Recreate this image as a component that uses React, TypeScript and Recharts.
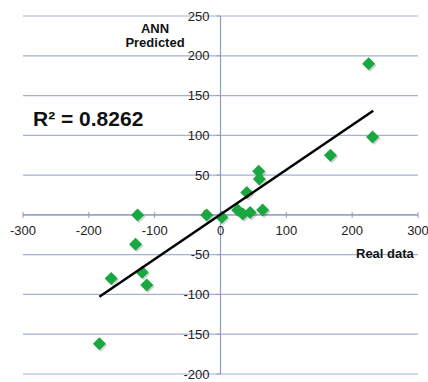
import { ScatterChart, Scatter, XAxis, YAxis, ReferenceLine, ReferenceDot } from 'recharts';

const realData = [225, 231, 167, 58, 59, 40, 26, 34, 45, 64, -21, 2, -126, -129, -166, -119, -112, -184];
const annPredicted = [190, 98, 75, 55, 45, 28, 6, 1, 3, 6, 0, -3, 0, -37, -80, -72, -88, -162];

const trendX = [-184, 232];
const trendY = [-103, 131];

const xTicks = [-300, -200, -100, 0, 100, 200, 300];
const yTicks = [-200, -150, -100, -50, 0, 50, 100, 150, 200, 250];

const points = realData.map((x, i) => ({ x, y: annPredicted[i] }));
const trend = trendX.map((x, i) => ({ x, y: trendY[i] }));

const gridColor = '#A3B1D6';
const axisColor = '#8D9CC6';
const font = '"Liberation Sans", Arial, sans-serif';

function Diamond(props: any) {
  const { cx, cy } = props;
  const s = 6.5;
  const pts = (dx: number, dy: number) =>
    `${cx + dx},${cy + dy - s} ${cx + dx + s},${cy + dy} ${cx + dx},${cy + dy + s} ${cx + dx - s},${cy + dy}`;
  return (
    <g>
      <polygon points={pts(1.5, 1.5)} fill="#000" opacity={0.18} />
      <polygon points={pts(0, 0)} fill="#19A83F" />
    </g>
  );
}

function XTick(props: any) {
  const { cx, cy, value } = props;
  return (
    <g>
      <line x1={cx} y1={cy - 3} x2={cx} y2={cy + 3} stroke={axisColor} />
      <text x={cx} y={cy + 20} textAnchor="middle" fontSize={13} fontFamily={font} fill="#222">
        {value}
      </text>
    </g>
  );
}

function YTick(props: any) {
  const { cx, cy, value } = props;
  return (
    <g>
      <line x1={cx - 4} y1={cy} x2={cx} y2={cy} stroke={axisColor} />
      <text x={cx - 11} y={cy + 4.5} textAnchor="end" fontSize={13} fontFamily={font} fill="#222">
        {value}
      </text>
    </g>
  );
}

export default function App() {
  return (
    <div style={{ position: 'absolute', left: 0, top: 0, width: 428, height: 382, background: '#fff' }}>
      <ScatterChart width={428} height={382} margin={{ top: 16, right: 10, bottom: 8, left: 23 }}>
        <XAxis type="number" dataKey="x" domain={[-300, 300]} ticks={xTicks} hide allowDataOverflow />
        <YAxis type="number" dataKey="y" domain={[-200, 250]} ticks={yTicks} hide allowDataOverflow />
        {yTicks.map((t) => (
          <ReferenceLine key={'g' + t} y={t} stroke={gridColor} strokeWidth={1.2} />
        ))}
        <ReferenceLine x={0} stroke={axisColor} strokeWidth={1.2} />
        <ReferenceLine y={0} stroke={axisColor} strokeWidth={1.2} />
        {xTicks.map((t) => (
          <ReferenceDot key={'x' + t} x={t} y={0} r={0} shape={(p: any) => <XTick {...p} value={t} />} />
        ))}
        {yTicks.map((t) => (
          <ReferenceDot key={'y' + t} x={0} y={t} r={0} shape={(p: any) => <YTick {...p} value={t} />} />
        ))}
        <Scatter data={points} shape={<Diamond />} isAnimationActive={false} />
        <Scatter
          data={trend}
          line={{ stroke: '#000', strokeWidth: 2.5 }}
          shape={() => <g />}
          isAnimationActive={false}
        />
      </ScatterChart>
      <div
        style={{
          position: 'absolute',
          left: 105,
          top: 22,
          width: 100,
          textAlign: 'center',
          fontFamily: font,
          fontWeight: 'bold',
          fontSize: 13,
          lineHeight: '14px',
          color: '#111',
        }}
      >
        ANN
        <br />
        Predicted
      </div>
      <div
        style={{
          position: 'absolute',
          left: 33,
          top: 107,
          fontFamily: font,
          fontWeight: 'bold',
          fontSize: 21,
          lineHeight: '24px',
          color: '#111',
          whiteSpace: 'nowrap',
        }}
      >
        R² = 0.8262
      </div>
      <div
        style={{
          position: 'absolute',
          left: 356,
          top: 246,
          fontFamily: font,
          fontWeight: 'bold',
          fontSize: 13,
          lineHeight: '16px',
          color: '#111',
          whiteSpace: 'nowrap',
        }}
      >
        Real data
      </div>
    </div>
  );
}
